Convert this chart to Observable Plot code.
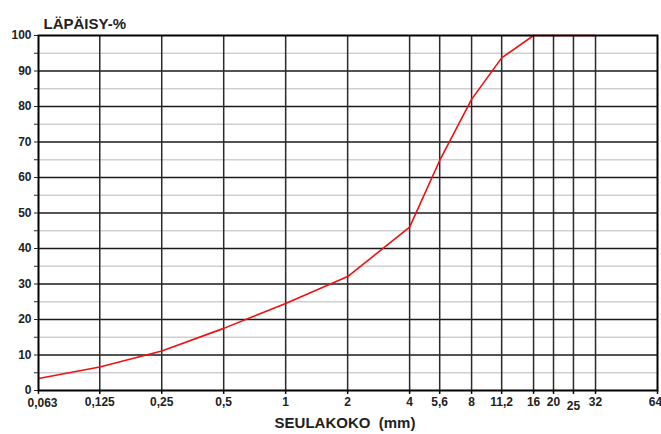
<!DOCTYPE html>
<html><head><meta charset="utf-8">
<script src="https://cdn.jsdelivr.net/npm/d3@7"></script>
<script src="https://cdn.jsdelivr.net/npm/@observablehq/plot@0.6"></script>
<style>body{margin:0;background:#fff}</style>
</head><body><div id="chart"></div>
<script>
const sieves = [0.063, 0.125, 0.25, 0.5, 1, 2, 4, 5.6, 8, 11.2, 16, 20, 25, 32, 64];
const sieveLabels = ["0,063","0,125","0,25","0,5","1","2","4","5,6","8","11,2","16","20","25","32","64"];
const curveSieves = [0.063, 0.125, 0.25, 0.5, 1, 2, 4, 5.6, 8, 11.2, 16, 20, 25, 32];
const passing = [3.4, 6.6, 11.1, 17.5, 24.5, 32.1, 46, 64.8, 82, 93.7, 100, 100, 100, 100];
const yMajor = [10,20,30,40,50,60,70,80,90];
const yMinor = [5,15,25,35,45,55,65,75,85,95];
const yTicks = [0,5,10,15,20,25,30,35,40,45,50,55,60,65,70,75,80,85,90,95,100];

const data = curveSieves.map((s,i)=>({s, p: passing[i]}));
const xLabels = sieves.map((s,i)=>({s, label: sieveLabels[i], low: sieveLabels[i] === "25", first: i === 0, last: i === sieves.length - 1}));
const midLabels = xLabels.filter(d => !d.low && !d.last && !d.first);

const chart = Plot.plot({
  width: 661, height: 434,
  marginLeft: 38, marginRight: 4, marginTop: 35, marginBottom: 44,
  style: {fontFamily: "'Liberation Sans', Arial, sans-serif", fontSize: "12px", fontWeight: "bold", color: "#222", background: "#fff"},
  x: {type: "log", domain: [0.063, 64], axis: null},
  y: {domain: [0, 100]},
  marks: [
    Plot.ruleY(yMinor, {stroke: "#cfcfcf", strokeWidth: 1.5}),
    Plot.ruleY(yMajor, {stroke: "#1a1a1a", strokeWidth: 1.5}),
    Plot.ruleX(sieves.slice(1, -1), {stroke: "#2a2a2a", strokeWidth: 1.5}),
    Plot.line(data, {x: "s", y: "p", stroke: "#f01010", strokeWidth: 1.6}),
    Plot.frame({stroke: "#000", strokeWidth: 2}),
    Plot.axisY({ticks: yTicks, tickSize: 4, tickPadding: 3, tickFormat: d => d % 10 === 0 ? String(d) : "", label: null, fontWeight: "bold", fontSize: 12}),
    Plot.ruleX(sieves, {x: d => d, y1: 0, y2: -1.1, stroke: "#000", strokeWidth: 1.5}),
    Plot.text(midLabels, {x: "s", y: 0, text: "label", dy: 12, fontSize: 12, fontWeight: "bold", fill: "#222"}),
    Plot.text(xLabels.filter(d => d.first), {x: "s", y: 0, text: "label", dy: 13, dx: 4, fontSize: 12, fontWeight: "bold", fill: "#222"}),
    Plot.text(xLabels.filter(d => d.low), {x: "s", y: 0, text: "label", dy: 16, fontSize: 12, fontWeight: "bold", fill: "#222"}),
    Plot.text(xLabels.filter(d => d.last), {x: "s", y: 0, text: "label", dy: 12, dx: -2, fontSize: 12, fontWeight: "bold", fill: "#222"}),
    Plot.text(["LÄPÄISY-%"], {frameAnchor: "top-left", dx: 5, dy: -17, textAnchor: "start", fontSize: 15, fontWeight: "bold", fill: "#222"}),
    Plot.text(["SEULAKOKO  (mm)"], {frameAnchor: "bottom", dx: -3, dy: 37, fontSize: 15, fontWeight: "bold", fill: "#222", style: "white-space:pre"})
  ]
});
document.getElementById("chart").append(chart);
</script></body></html>
